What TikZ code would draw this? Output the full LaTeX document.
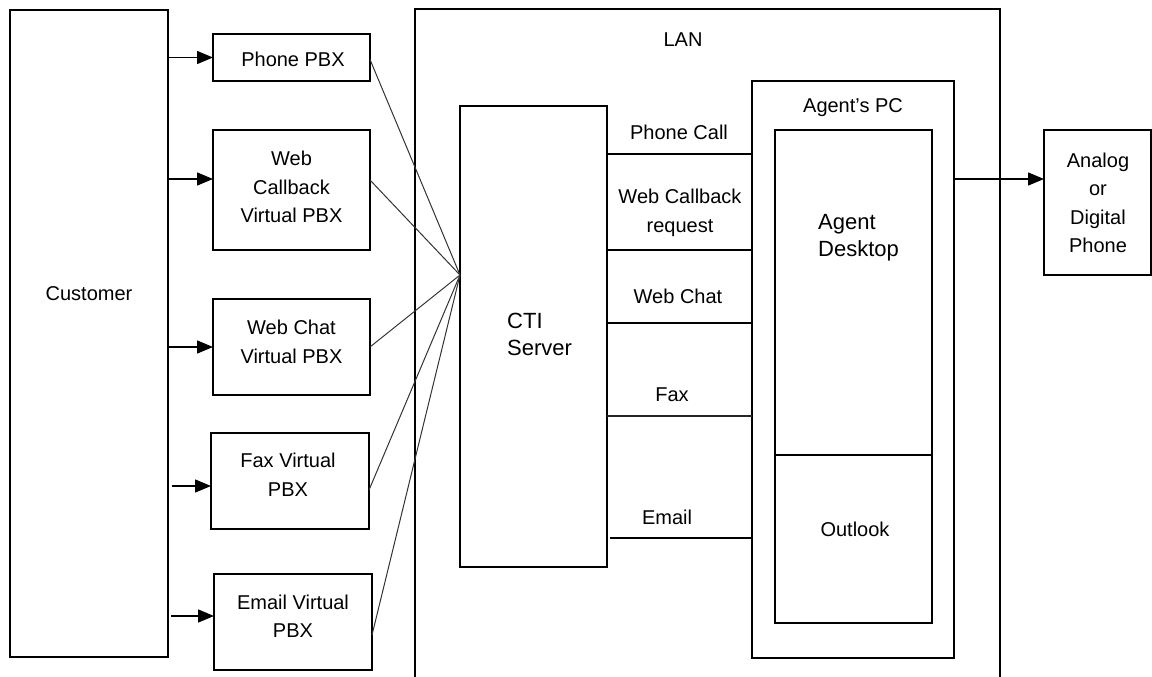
\documentclass[tikz,border=0pt]{standalone}
\usepackage{fontspec}
\setmainfont{Liberation Sans}
\usetikzlibrary{arrows.meta}
\begin{document}
\begin{tikzpicture}[x=1pt,y=-1pt,
  box/.style={draw, line width=1.5pt, inner sep=0pt, outer sep=0pt},
  lbl/.style={font=\fontsize{20}{28.5}\selectfont, align=center, inner sep=0pt},
  biglbl/.style={font=\fontsize{22}{27}\selectfont, align=left, inner sep=0pt},
  arr/.style={line width=1.5pt, -{Triangle[length=16pt,width=13pt]}},
  feed/.style={line width=1pt, black!80},
  row/.style={line width=1.5pt}]
\useasboundingbox (0,0) rectangle (1152,677);
\clip (0,0) rectangle (1152,677);
% boxes
\node[box, minimum width=158pt, minimum height=647pt] (cust) at (89,333.5) {};
\node[box, minimum width=157pt, minimum height=47pt] (phone) at (291.5,57.5) {};
\node[box, minimum width=157pt, minimum height=120pt] (wcb) at (291.5,190) {};
\node[box, minimum width=157pt, minimum height=96pt] (wchat) at (291.5,347) {};
\node[box, minimum width=158pt, minimum height=96pt] (fax) at (290,481) {};
\node[box, minimum width=158pt, minimum height=96pt] (email) at (293,622) {};
\node[box, minimum width=585pt, minimum height=711pt] (lan) at (707.5,364.5) {};
\node[box, minimum width=147pt, minimum height=461pt] (cti) at (533.5,336.5) {};
\node[box, minimum width=202pt, minimum height=577pt] (pc) at (853,369.5) {};
\node[box, minimum width=157pt, minimum height=325pt] (desk) at (853.5,292.5) {};
\node[box, minimum width=157pt, minimum height=168pt] (outl) at (853.5,539) {};
\node[box, minimum width=107pt, minimum height=145pt] (analog) at (1097.5,202.5) {};
\draw[line width=2.5pt] (desk.south west) -- (desk.south east);
% texts
\node[lbl] (tcust) at (89,294) {Customer};
\node[lbl] (tphone) at (293,59) {Phone PBX};
\node[lbl] (twcb) at (291.5,187) {Web\\Callback\\Virtual PBX};
\node[lbl] (twchat) at (291.5,342) {Web Chat\\Virtual PBX};
\node[lbl] (tfax) at (288,475) {Fax Virtual\\PBX};
\node[lbl] (temail) at (293,616) {Email Virtual\\PBX};
\node[lbl] (tlan) at (683,40) {LAN};
\node[biglbl, anchor=west] (tcti) at (507,334) {CTI\\Server};
\node[lbl] (trow1) at (679,132) {Phone Call};
\node[lbl] (trow2) at (680,213) {Web Callback\\request};
\node[lbl] (trow3) at (678,296) {Web Chat};
\node[lbl] (trow4) at (672,395) {Fax};
\node[lbl] (trow5) at (667,517) {Email};
\node[lbl] (tpc) at (853,108) {Agent’s PC};
\node[biglbl, anchor=west] (tdesk) at (818,238) {Agent\\Desktop};
\node[lbl] (toutl) at (855,529) {Outlook};
\node[lbl] (tanalog) at (1098,203) {Analog\\or\\Digital\\Phone};
% customer arrows
\draw[arr] (cust.east |- phone.west) -- (phone.west);
\draw[arr] ([yshift=11pt]cust.east |- wcb.west) -- ([yshift=11pt]wcb.west);
\draw[arr] (cust.east |- wchat.west) -- (wchat.west);
\draw[arr] ([xshift=4pt,yshift=-5pt]cust.east |- fax.west) -- ([yshift=-5pt]fax.west);
\draw[arr] ([xshift=3pt,yshift=6pt]cust.east |- email.west) -- ([yshift=6pt]email.west);
% feeds to CTI
\coordinate (hub) at (460,275);
\draw[feed] ([yshift=-2pt]phone.east) -- (hub);
\draw[feed] ([yshift=10pt]wcb.east) -- (hub);
\draw[feed] (wchat.east) -- (hub);
\draw[feed] ([yshift=-9pt]fax.east) -- (hub);
\draw[feed] ([yshift=-13pt]email.east) -- (hub);
% rows between CTI and Agent PC
\coordinate (r1) at (0,154);
\coordinate (r2) at (0,250);
\coordinate (r3) at (0,323);
\coordinate (r4) at (0,416);
\coordinate (r5) at (0,538);
\draw[row] (cti.east |- r1) -- (pc.west |- r1);
\draw[row] (cti.east |- r2) -- (pc.west |- r2);
\draw[row] (cti.east |- r3) -- (pc.west |- r3);
\draw[row, black!85] (cti.east |- r4) -- (pc.west |- r4);
\draw[row] ([xshift=3pt]cti.east |- r5) -- (pc.west |- r5);
% to phone
\coordinate (r0) at (0,179);
\draw[arr] (pc.east |- r0) -- (analog.west |- r0);
\end{tikzpicture}
\end{document}
